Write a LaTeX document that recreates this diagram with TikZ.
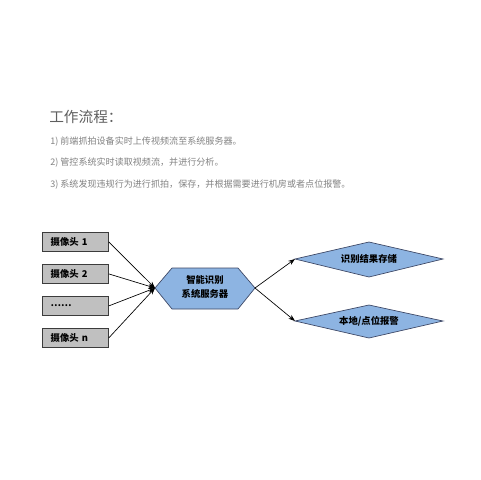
\documentclass[tikz,border=0pt]{standalone}
\usepackage{fontspec}
\setmainfont{Noto Sans CJK SC}
\newfontfamily\cjk{Noto Sans CJK SC}
\usetikzlibrary{arrows.meta}
\definecolor{txtgray}{RGB}{130,130,130}
\definecolor{titlegray}{RGB}{95,95,95}
\definecolor{boxfill}{RGB}{192,192,192}
\definecolor{boxdraw}{RGB}{60,60,60}
\definecolor{bluefill}{RGB}{141,180,226}
\definecolor{bluedraw}{RGB}{60,70,100}
\tikzset{
  cambox/.style={draw=boxdraw,fill=boxfill,line width=0.6pt,minimum width=49.5pt,minimum height=14.25pt,inner sep=0pt,anchor=north west,text width=37pt,align=left,font=\cjk\bfseries\fontsize{7}{8}\selectfont},
  blueshape/.style={draw=bluedraw,fill=bluefill,line width=0.5pt},
  lbl/.style={font=\cjk\bfseries\fontsize{7}{8}\selectfont,inner sep=0pt},
  flow/.style={-{Stealth[length=5pt,width=3.6pt]},line width=0.5pt,black},
  bodytxt/.style={anchor=west,text=txtgray,font=\cjk\fontsize{6.8}{8}\selectfont,inner sep=0pt}
}
\begin{document}
\begin{tikzpicture}[x=0.75pt,y=-0.75pt]
\fill[white] (0,0) rectangle (480,480);
\useasboundingbox (0,0) rectangle (480,480);
% header text
\node[anchor=west,text=titlegray,font=\cjk\fontsize{11}{13}\selectfont,inner sep=0pt] (title) at (49,117) {工作流程：};
\node[bodytxt] (l1) at (50,142) {1) 前端抓拍设备实时上传视频流至系统服务器。};
\node[bodytxt] (l2) at (50,163) {2) 管控系统实时读取视频流，并进行分析。};
\node[bodytxt] (l3) at (50,185) {3) 系统发现违规行为进行抓拍，保存，并根据需要进行机房或者点位报警。};
% camera boxes
\node[cambox] (c1) at (42,232) {摄像头 1};
\node[cambox] (c2) at (42,264) {摄像头 2};
\node[cambox] (c3) at (42,296) {……};
\node[cambox] (c4) at (42,328) {摄像头 n};
% hexagon server
\draw[blueshape] (155,288) -- (172,268) -- (238,268) -- (255,288) -- (238,309) -- (172,309) -- cycle;
\coordinate (srvL) at (155,288);
\coordinate (srvR) at (255,288);
\node[lbl,align=center] (srv) at (205,287) {智能识别\\[2pt]系统服务器};
% diamonds
\draw[blueshape] (295,259) -- (369,242) -- (443,259) -- (369,277) -- cycle;
\coordinate (d1L) at (295,259);
\node[lbl] (d1) at (369,259) {识别结果存储};
\draw[blueshape] (295,321) -- (369,305) -- (443,321) -- (369,338) -- cycle;
\coordinate (d2L) at (295,321);
\node[lbl] (d2) at (369,321) {本地/点位报警};
% connectors
\draw[flow] (c1.east) -- (srvL);
\draw[flow] (c2.east) -- (srvL);
\draw[flow] (c3.east) -- (srvL);
\draw[flow] (c4.east) -- (srvL);
\draw[flow] (srvR) -- (d1L);
\draw[flow] (srvR) -- (d2L);
\end{tikzpicture}
\end{document}
